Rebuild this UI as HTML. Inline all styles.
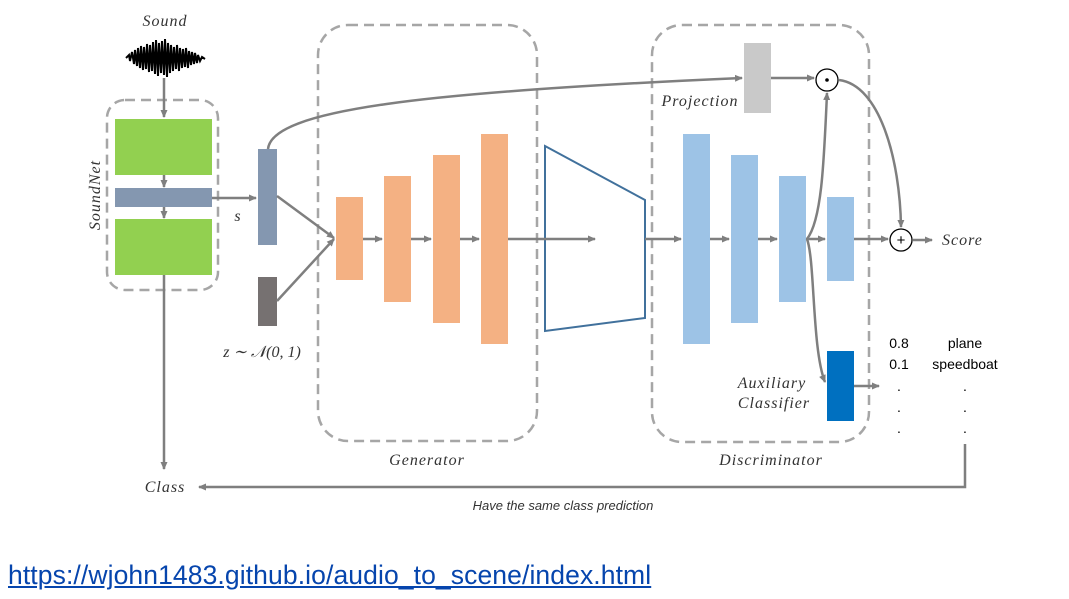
<!DOCTYPE html>
<html><head><meta charset="utf-8"><style>
body{margin:0;width:1069px;height:599px;background:#fff;overflow:hidden;position:relative}
a{position:absolute;left:8px;top:560px;font-family:"Liberation Sans",sans-serif;font-size:26.5px;letter-spacing:0.1px;color:#0645ad;text-decoration:underline}
</style></head><body>
<svg width="1069" height="599" style="position:absolute;left:0;top:0">
<defs><marker id="ar" markerWidth="8" markerHeight="8" refX="7" refY="4" orient="auto" markerUnits="userSpaceOnUse"><path d="M0,0.5 L8,4 L0,7.5Z" fill="#7f7f7f"/></marker></defs>
<g font-family="Liberation Serif,serif" font-style="italic" font-size="16" fill="#333" letter-spacing="1">
<text x="165" y="26" text-anchor="middle">Sound</text>
<text x="238" y="221" text-anchor="middle">s</text>
<text x="262" y="357" text-anchor="middle" letter-spacing="0">z ∼ 𝒩(0, 1)</text>
<text x="427" y="465" text-anchor="middle">Generator</text>
<text x="771" y="465" text-anchor="middle">Discriminator</text>
<text x="700" y="106" text-anchor="middle">Projection</text>
<text x="942" y="245">Score</text>
<text x="772" y="388" text-anchor="middle">Auxiliary</text>
<text x="774" y="408" text-anchor="middle">Classifier</text>
<text x="165" y="492" text-anchor="middle">Class</text>
<text transform="translate(100,195) rotate(-90)" text-anchor="middle">SoundNet</text>
<text x="563" y="510" text-anchor="middle" font-family="Liberation Sans,sans-serif" font-size="13" letter-spacing="0">Have the same class prediction</text>
</g>
<g font-family="Liberation Sans,sans-serif" font-size="14" fill="#000" text-anchor="middle">
<text x="899" y="348">0.8</text><text x="899" y="369">0.1</text>
<text x="965" y="348">plane</text><text x="965" y="369">speedboat</text>
<text x="899" y="391">.</text><text x="899" y="412">.</text><text x="899" y="433">.</text>
<text x="965" y="391">.</text><text x="965" y="412">.</text><text x="965" y="433">.</text>
</g>
<g stroke="#000" stroke-width="2">
<path d="M126,58 L129,55 L130,61 L132,52 L134,64 L135,50 L137,66 L138,48 L140,68 L141,46 L143,70 L144,47 L146,69 L147,44 L149,72 L150,45 L152,71 L153,42 L155,74 L156,40 L158,76 L159,43 L161,73 L162,41 L164,75 L165,39 L167,77 L168,43 L170,73 L171,45 L173,71 L174,47 L176,69 L177,45 L179,71 L180,48 L182,68 L183,49 L185,67 L186,48 L188,68 L189,51 L191,65 L192,52 L194,64 L195,53 L197,63 L198,55 L200,61 L202,57 L205,59" fill="none"/>
</g>
<g fill="none" stroke="#a6a6a6" stroke-width="2.5" stroke-dasharray="10,6">
<rect x="107" y="100" width="111" height="190" rx="18"/>
<rect x="318" y="25" width="219" height="416" rx="30"/>
<rect x="652" y="25" width="217" height="417" rx="30"/>
</g>
<rect x="115" y="119" width="97" height="56" fill="#92d050"/>
<rect x="115" y="188" width="97" height="19" fill="#8497b0"/>
<rect x="115" y="219" width="97" height="56" fill="#92d050"/>
<rect x="258" y="149" width="19" height="96" fill="#8497b0"/>
<rect x="258" y="277" width="19" height="49" fill="#767171"/>
<g fill="#f4b183">
<rect x="336" y="197" width="27" height="83"/><rect x="384" y="176" width="27" height="126"/>
<rect x="433" y="155" width="27" height="168"/><rect x="481" y="134" width="27" height="210"/>
</g>
<g fill="#9dc3e6">
<rect x="683" y="134" width="27" height="210"/><rect x="731" y="155" width="27" height="168"/>
<rect x="779" y="176" width="27" height="126"/><rect x="827" y="197" width="27" height="84"/>
</g>
<rect x="744" y="43" width="27" height="70" fill="#c9c9c9"/>
<rect x="827" y="351" width="27" height="70" fill="#0070c0"/>
<path d="M545,146 L645,200 L645,318 L545,331Z" fill="none" stroke="#41719c" stroke-width="2"/>
<g fill="none" stroke="#7f7f7f" stroke-width="2.5">
<path d="M164,78 V117" marker-end="url(#ar)"/>
<path d="M164,175 V187" marker-end="url(#ar)"/>
<path d="M164,207 V218" marker-end="url(#ar)"/>
<path d="M164,275 V469" marker-end="url(#ar)"/>
<path d="M212,198 H256" marker-end="url(#ar)"/>
<path d="M277,196 L334,238" marker-end="url(#ar)"/>
<path d="M277,301 L334,239" marker-end="url(#ar)"/>
<path d="M363,239 H382" marker-end="url(#ar)"/>
<path d="M411,239 H431" marker-end="url(#ar)"/>
<path d="M460,239 H479" marker-end="url(#ar)"/>
<path d="M508,239 H595" marker-end="url(#ar)"/>
<path d="M645,239 H681" marker-end="url(#ar)"/>
<path d="M710,239 H729" marker-end="url(#ar)"/>
<path d="M758,239 H777" marker-end="url(#ar)"/>
<path d="M806,239 H825" marker-end="url(#ar)"/>
<path d="M854,239 H888" marker-end="url(#ar)"/>
<path d="M913,240 H932" marker-end="url(#ar)"/>
<path d="M268,149 C272,110 420,92 742,78" marker-end="url(#ar)"/>
<path d="M771,78 H814" marker-end="url(#ar)"/>
<path d="M807,239 C822,220 824,160 827,93" marker-end="url(#ar)"/>
<path d="M807,239 C815,260 812,350 825,382" marker-end="url(#ar)"/>
<path d="M839,80 C880,85 900,160 901,227" marker-end="url(#ar)"/>
<path d="M854,386 H879" marker-end="url(#ar)"/>
<path d="M965,444 V487 H199" marker-end="url(#ar)"/>
</g>
<circle cx="827" cy="80" r="11" fill="#fff" stroke="#000" stroke-width="1.3"/>
<circle cx="827" cy="80" r="1.8" fill="#000"/>
<circle cx="901" cy="240" r="11" fill="#fff" stroke="#000" stroke-width="1.3"/>
<text x="901" y="245" text-anchor="middle" font-family="Liberation Sans,sans-serif" font-size="15">+</text>
</svg>
<a>https://wjohn1483.github.io/audio_to_scene/index.html</a>
</body></html>
